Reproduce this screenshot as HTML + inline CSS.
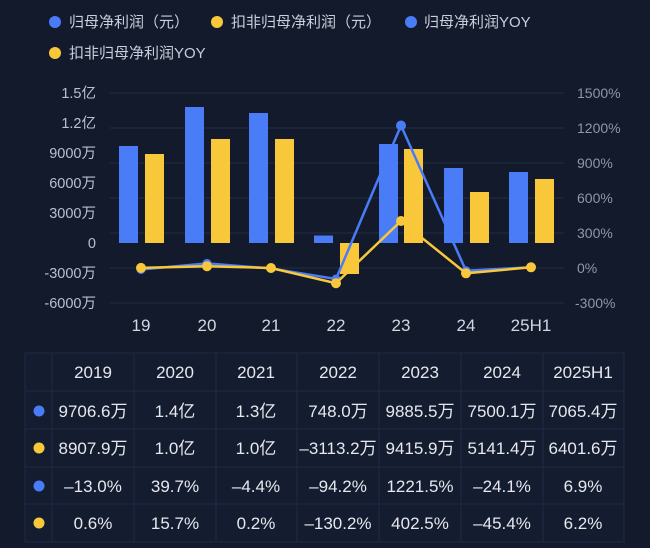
<!DOCTYPE html>
<html><head><meta charset="utf-8"><style>
html,body{margin:0;padding:0;background:#121a2c;}
svg{display:block;}
text{font-family:"Liberation Sans","Noto Sans CJK SC",sans-serif;}
</style></head><body>
<svg width="650" height="548" viewBox="0 0 650 548" xmlns="http://www.w3.org/2000/svg">
<rect width="650" height="548" fill="#121a2c"/>
<!-- legend -->
<g font-size="15" fill="#c9cedb">
<circle cx="55" cy="22" r="6" fill="#4a7cf7"/><text x="69" y="27">归母净利润（元）</text>
<circle cx="217" cy="22" r="6" fill="#f9c83a"/><text x="231" y="27">扣非归母净利润（元）</text>
<circle cx="411" cy="22" r="6" fill="#4a7cf7"/><text x="424" y="27">归母净利润YOY</text>
<circle cx="55" cy="53" r="6" fill="#f9c83a"/><text x="69" y="58">扣非归母净利润YOY</text>
</g>
<!-- gridlines -->
<g stroke="#222c44" stroke-width="1">
<line x1="110" x2="564" y1="93" y2="93"/><line x1="110" x2="564" y1="128" y2="128"/>
<line x1="110" x2="564" y1="163" y2="163"/><line x1="110" x2="564" y1="198" y2="198"/>
<line x1="110" x2="564" y1="233" y2="233"/><line x1="110" x2="564" y1="268" y2="268"/>
<line x1="110" x2="564" y1="303" y2="303"/>
</g>
<!-- left axis -->
<g font-size="14.5" fill="#b9c0ce" text-anchor="end">
<text x="96" y="98">1.5亿</text><text x="96" y="128">1.2亿</text>
<text x="96" y="158">9000万</text><text x="96" y="188">6000万</text>
<text x="96" y="218">3000万</text><text x="96" y="248">0</text>
<text x="96" y="278">-3000万</text><text x="96" y="308">-6000万</text>
</g>
<g font-size="14" fill="#8e96a8">
<text x="577" y="98">1500%</text><text x="577" y="133">1200%</text>
<text x="577" y="168">900%</text><text x="577" y="203">600%</text>
<text x="577" y="238">300%</text><text x="577" y="273">0%</text>
<text x="575" y="308">-300%</text>
</g>
<!-- bars -->
<g fill="#4a7cf7">
<rect x="119" y="146" width="19" height="97"/>
<rect x="185" y="107" width="19" height="136"/>
<rect x="249" y="113" width="19" height="130"/>
<rect x="314" y="235.5" width="19" height="7.5"/>
<rect x="379" y="144" width="19" height="99"/>
<rect x="444" y="168" width="19" height="75"/>
<rect x="509" y="172" width="19" height="71"/>
</g>
<g fill="#f9c83a">
<rect x="145" y="154" width="19" height="89"/>
<rect x="211" y="139" width="19" height="104"/>
<rect x="275" y="139" width="19" height="104"/>
<rect x="340" y="243" width="19" height="31"/>
<rect x="404" y="149" width="19" height="94"/>
<rect x="470" y="192" width="19" height="51"/>
<rect x="535" y="179" width="19" height="64"/>
</g>
<!-- lines -->
<polyline fill="none" stroke="#4a7cf7" stroke-width="2.5" points="141,269.5 207,263.4 271,268.5 336,279 401,125.5 466,270.8 531,267.2"/>
<g fill="#4a7cf7"><circle cx="141" cy="269.5" r="4.5"/><circle cx="207" cy="263.4" r="4.5"/><circle cx="271" cy="268.5" r="4.5"/><circle cx="336" cy="279" r="4.5"/><circle cx="401" cy="125.5" r="5"/><circle cx="466" cy="270.8" r="4.5"/><circle cx="531" cy="267.2" r="4.5"/></g>
<polyline fill="none" stroke="#f9c83a" stroke-width="2.5" points="141,267.9 207,266.2 271,268 336,283.2 401,221 466,273.3 531,267.3"/>
<g fill="#f9c83a"><circle cx="141" cy="267.9" r="5"/><circle cx="207" cy="266.2" r="5"/><circle cx="271" cy="268" r="5"/><circle cx="336" cy="283.2" r="5"/><circle cx="401" cy="221" r="5"/><circle cx="466" cy="273.3" r="5"/><circle cx="531" cy="267.3" r="5"/></g>
<!-- x labels -->
<g font-size="17" fill="#d2d6df" text-anchor="middle">
<text x="141" y="331">19</text><text x="207" y="331">20</text><text x="271" y="331">21</text>
<text x="336" y="331">22</text><text x="401" y="331">23</text><text x="466" y="331">24</text><text x="531" y="331">25H1</text>
</g>
<!-- table -->
<rect x="25" y="353" width="599" height="189" fill="#141c30"/>
<g stroke="#202a42" stroke-width="1" fill="none">
<rect x="25" y="353" width="599" height="189"/>
<line x1="25" x2="624" y1="391" y2="391"/><line x1="25" x2="624" y1="429" y2="429"/>
<line x1="25" x2="624" y1="467" y2="467"/><line x1="25" x2="624" y1="504" y2="504"/>
<line x1="52" x2="52" y1="353" y2="542"/><line x1="134" x2="134" y1="353" y2="542"/>
<line x1="216" x2="216" y1="353" y2="542"/><line x1="297" x2="297" y1="353" y2="542"/>
<line x1="379" x2="379" y1="353" y2="542"/><line x1="461" x2="461" y1="353" y2="542"/>
<line x1="543" x2="543" y1="353" y2="542"/>
</g>
<g font-size="17" fill="#e6e8ee" text-anchor="middle">
<text x="93" y="378">2019</text><text x="175" y="378">2020</text><text x="256" y="378">2021</text><text x="338" y="378">2022</text><text x="420" y="378">2023</text><text x="502" y="378">2024</text><text x="583" y="378">2025H1</text>
<text x="93" y="417">9706.6万</text><text x="175" y="417">1.4亿</text><text x="256" y="417">1.3亿</text><text x="338" y="417">748.0万</text><text x="420" y="417">9885.5万</text><text x="502" y="417">7500.1万</text><text x="583" y="417">7065.4万</text>
<text x="93" y="454">8907.9万</text><text x="175" y="454">1.0亿</text><text x="256" y="454">1.0亿</text><text x="338" y="454">–3113.2万</text><text x="420" y="454">9415.9万</text><text x="502" y="454">5141.4万</text><text x="583" y="454">6401.6万</text>
<text x="93" y="492">–13.0%</text><text x="175" y="492">39.7%</text><text x="256" y="492">–4.4%</text><text x="338" y="492">–94.2%</text><text x="420" y="492">1221.5%</text><text x="502" y="492">–24.1%</text><text x="583" y="492">6.9%</text>
<text x="93" y="529">0.6%</text><text x="175" y="529">15.7%</text><text x="256" y="529">0.2%</text><text x="338" y="529">–130.2%</text><text x="420" y="529">402.5%</text><text x="502" y="529">–45.4%</text><text x="583" y="529">6.2%</text>
</g>
<circle cx="39" cy="411" r="5.5" fill="#4a7cf7"/>
<circle cx="39" cy="448" r="5.5" fill="#f9c83a"/>
<circle cx="39" cy="486" r="5.5" fill="#4a7cf7"/>
<circle cx="39" cy="523" r="5.5" fill="#f9c83a"/>
</svg>
</body></html>
